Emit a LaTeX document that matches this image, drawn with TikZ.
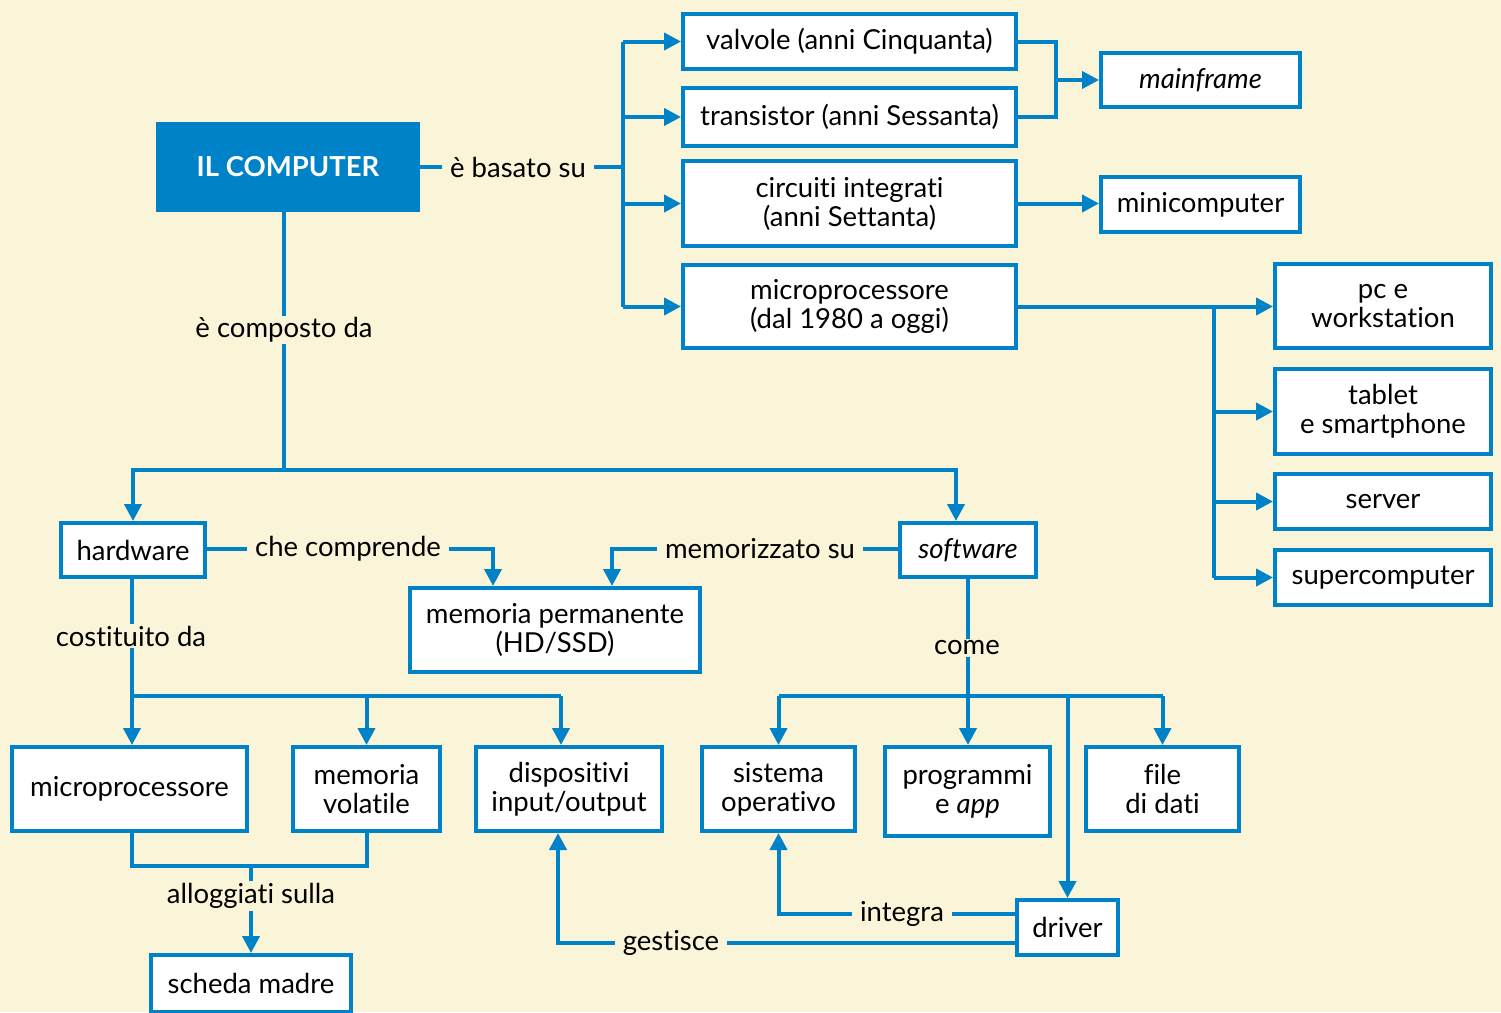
\documentclass[tikz,border=0pt]{standalone}
\usepackage{fontspec}
\setmainfont{Lato}[Ligatures=NoCommon]
\usetikzlibrary{arrows.meta}
\definecolor{bg}{HTML}{FAF4D8}
\definecolor{bl}{HTML}{0082C8}
\newcommand\dfont{\fontsize{27.5}{29}\selectfont}
\begin{document}
\begin{tikzpicture}[x=1pt,y=-1pt,
  box/.style={draw=bl,line width=4pt,fill=white,align=center,inner sep=0pt,font=\dfont},
  conn/.style={draw=bl,line width=4pt},
  arr/.style={conn,-{Triangle[length=17pt,width=17pt]}},
  lbl/.style={fill=bg,inner xsep=8pt,inner ysep=2pt,font=\dfont}]
\fill[bg] (0,0) rectangle (1501,1012);
\useasboundingbox (0,0) rectangle (1501,1012);

% nodes
\node[fill=bl,minimum width=264pt,minimum height=90pt,inner sep=0pt,text=white,font=\dfont\bfseries] (comp) at (288,167) {IL COMPUTER};
\node[box,minimum width=333pt,minimum height=55pt] (valv) at (849.5,41.5) {valvole (anni Cinquanta)};
\node[box,minimum width=333pt,minimum height=58pt] (trans) at (849.5,117) {transistor (anni Sessanta)};
\node[box,minimum width=333pt,minimum height=85pt] (circ) at (849.5,203.5) {circuiti integrati\\(anni Settanta)};
\node[box,minimum width=333pt,minimum height=83pt] (micT) at (849.5,306.5) {microprocessore\\(dal 1980 a oggi)};
\node[box,minimum width=199pt,minimum height=54pt] (mainf) at (1200.5,80) {\itshape mainframe};
\node[box,minimum width=199pt,minimum height=55pt] (minic) at (1200.5,204.5) {minicomputer};
\node[box,minimum width=216pt,minimum height=84pt] (pc) at (1383,306) {pc e\\workstation};
\node[box,minimum width=216pt,minimum height=85pt] (tab) at (1383,411.5) {tablet\\e smartphone};
\node[box,minimum width=216pt,minimum height=55pt] (serv) at (1383,501.5) {server};
\node[box,minimum width=216pt,minimum height=55pt] (superc) at (1383,577.5) {supercomputer};
\node[box,minimum width=144pt,minimum height=54pt] (hw) at (133,550) {hardware};
\node[box,minimum width=290pt,minimum height=84pt] (memp) at (555,630) {memoria permanente\\(HD/SSD)};
\node[box,minimum width=136pt,minimum height=54pt] (sw) at (968,550) {\itshape software};
\node[box,minimum width=235pt,minimum height=84pt] (micB) at (129.5,789) {microprocessore};
\node[box,minimum width=147pt,minimum height=84pt] (memv) at (366.5,789) {memoria\\volatile};
\node[box,minimum width=186pt,minimum height=84pt] (disp) at (569,789) {dispositivi\\input/output};
\node[box,minimum width=153pt,minimum height=84pt] (sist) at (778.5,789) {sistema\\operativo};
\node[box,minimum width=165pt,minimum height=89pt] (prog) at (967.5,791.5) {programmi\\e \textit{app}};
\node[box,minimum width=153pt,minimum height=84pt] (file) at (1162.5,789) {file\\di dati};
\node[box,minimum width=101pt,minimum height=55pt] (drv) at (1067.5,927.5) {driver};
\node[box,minimum width=200pt,minimum height=57pt] (sched) at (251,983.5) {scheda madre};

% coordinates
\coordinate (b0) at (623,167);
\coordinate (b1) at (1056,80);
\coordinate (b2) at (1214,306.5);
\coordinate (b3) at (284,470);
\coordinate (b4) at (956,470);
\coordinate (c1) at (493,549);
\coordinate (c2) at (612,549);
\coordinate (c3) at (132,696);
\coordinate (c4) at (561,696);
\coordinate (c5) at (251,866);
\coordinate (c6) at (968,696);
\coordinate (c7) at (1015,914);
\coordinate (c8) at (558,943);

% top branch
\draw[conn] (comp.east) -- (b0);
\draw[conn] (b0 |- valv.west) -- (b0 |- micT.west);
\foreach \n in {valv,trans,circ,micT} \draw[arr] (b0 |- \n.west) -- (\n.west);
\node[lbl] (l1) at (518,167) {è basato su};

\draw[conn] (valv.east) -- (b1 |- valv.east) -- (b1 |- trans.east) -- (trans.east);
\draw[arr] (b1) -- (mainf.west);
\draw[arr] (circ.east) -- (circ.east -| minic.west);
\draw[arr] (micT.east) -- (micT.east -| pc.west);
\draw[conn] (b2) -- (b2 |- superc.west);
\foreach \n in {tab,serv,superc} \draw[arr] (b2 |- \n.west) -- (\n.west);

% composed of
\draw[conn] (b3 |- comp.south) -- (b3);
\draw[arr] (b3) -- (b3 -| hw.north) -- (hw.north);
\draw[arr] (b3) -- (b4) -- (b4 |- sw.north);
\node[lbl] (l2) at (284,330) {è composto da};

% hardware / software to memoria permanente
\draw[arr] (hw.east |- c1) -- (c1) -- (c1 |- memp.north);
\node[lbl] (l3) at (348,549) {che comprende};
\draw[arr] (sw.west |- c2) -- (c2) -- (c2 |- memp.north);
\node[lbl] (l4) at (760,549) {memorizzato su};

% hardware components
\draw[conn] (c3 |- hw.south) -- (c3) -- (c4);
\draw[arr] (c3) -- (c3 |- micB.north);
\draw[arr] (c3 -| memv.north) -- (memv.north);
\draw[arr] (c4) -- (c4 |- disp.north);
\node[lbl] (l5) at (131,636) {costituito da};

\draw[conn] (c3 |- micB.south) -- (c3 |- c5) -- (c5 -| memv.south) -- (memv.south);
\draw[arr] (c5) -- (c5 |- sched.north);
\node[lbl] (l6) at (251,896) {alloggiati sulla};

% software components
\draw[conn] (sw.south -| c6) -- (c6);
\draw[conn] (c6 -| sist.north) -- (c6 -| file.north);
\draw[arr] (c6 -| sist.north) -- (sist.north);
\draw[arr] (c6) -- (c6 |- prog.north);
\draw[arr] (c6 -| file.north) -- (file.north);
\draw[arr] (c6 -| drv.north) -- (drv.north);
\node[lbl] (l7) at (967,648) {come};

% driver
\draw[arr] (c7 -| drv.west) -- (c7 -| sist.south) -- (sist.south);
\node[lbl] (l8) at (902,914) {integra};
\draw[arr] (c8 -| drv.west) -- (c8) -- (c8 |- disp.south);
\node[lbl] (l9) at (671,943) {gestisce};
\end{tikzpicture}
\end{document}
